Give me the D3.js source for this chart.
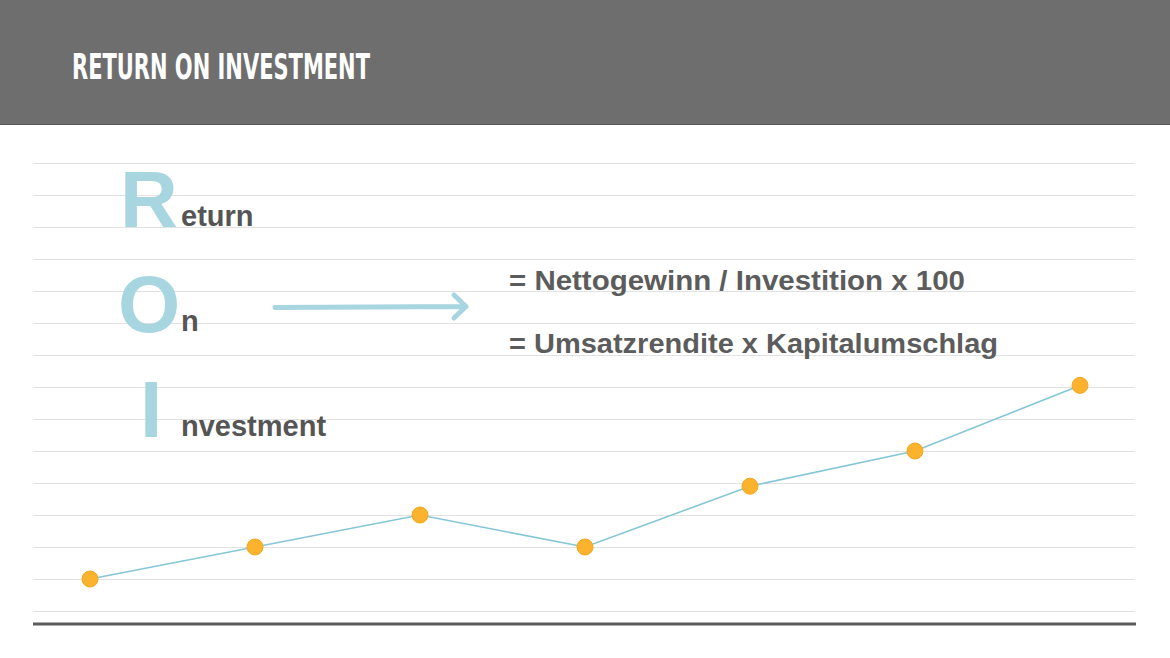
<!DOCTYPE html>
<html>
<head>
<meta charset="utf-8">
<script src="https://cdn.jsdelivr.net/npm/d3@7"></script>
<style>
    html, body { margin: 0; padding: 0; background: #fff; }
    #chart { width: 1170px; height: 658px; }
</style>
</head>
<body>
<div id="chart"></div>
<script>
// series
const periods = [1, 2, 3, 4, 5, 6, 7];
const roiValues = [1, 2, 3, 2, 3.9, 5, 7.05];
const gridValues = [0, 1, 2, 3, 4, 5, 6, 7, 8, 9, 10, 11, 12, 13, 14];

const titleText = "RETURN ON INVESTMENT";
const bigLetters = ["R", "O", "I"];
const restWords = ["eturn", "n", "nvestment"];
const formulas = ["= Nettogewinn / Investition x 100", "= Umsatzrendite x Kapitalumschlag"];

class RoiSlide {
    constructor(domName) {
        this.domName = domName;
        this.dom = document.querySelector(domName);
    }

    render() {
        const width = 1170,
            height = 658,
            headerHeight = 124,
            left = 33,
            right = 1135;

        const svg = d3.select(this.domName)
            .append("svg")
            .attr("width", width)
            .attr("height", height);

        // header band
        svg.append("rect")
            .attr("width", width)
            .attr("height", headerHeight)
            .attr("fill", "#6e6e6e");
        svg.append("line")
            .attr("x1", 0).attr("x2", width)
            .attr("y1", headerHeight + 0.5).attr("y2", headerHeight + 0.5)
            .attr("stroke", "#565656");
        svg.append("text")
            .attr("x", 72)
            .attr("y", 79)
            .attr("fill", "#fff")
            .attr("font-family", "'Liberation Sans Narrow', 'DejaVu Sans Condensed', 'Liberation Sans', sans-serif")
            .attr("font-weight", "bold")
            .attr("font-size", 36)
            .attr("textLength", 298)
            .attr("lengthAdjust", "spacingAndGlyphs")
            .text(titleText);

        let x = d3.scalePoint()
            .domain(periods)
            .range([90, 1080]);

        let y = d3.scaleLinear()
            .domain([0, 14])
            .range([611, 163]);

        // ruled lines
        svg.append("g")
            .selectAll("line")
            .data(gridValues)
            .enter()
            .append("line")
            .attr("x1", left).attr("x2", right)
            .attr("y1", d => Math.round(y(d)) + 0.5)
            .attr("y2", d => Math.round(y(d)) + 0.5)
            .attr("stroke", "#e2e2e2")
            .attr("stroke-width", 1);

        svg.append("line")
            .attr("x1", left).attr("x2", right + 1)
            .attr("y1", 624).attr("y2", 624)
            .attr("stroke", "#5a5a5a")
            .attr("stroke-width", 3);

        // R O I block
        const letterRows = [227, 332, 437];
        const letterX = [120, 118, 140];
        svg.append("g")
            .selectAll("text")
            .data(bigLetters)
            .enter()
            .append("text")
            .attr("x", (d, i) => letterX[i])
            .attr("y", (d, i) => letterRows[i])
            .attr("fill", "#a7d5e0")
            .attr("font-family", "'Liberation Sans', Arial, sans-serif")
            .attr("font-weight", "bold")
            .attr("font-size", 80)
            .text(d => d);

        svg.append("g")
            .selectAll("text")
            .data(restWords)
            .enter()
            .append("text")
            .attr("x", 181)
            .attr("y", (d, i) => letterRows[i] - 1)
            .attr("fill", "#555")
            .attr("font-family", "'Liberation Sans', Arial, sans-serif")
            .attr("font-weight", "bold")
            .attr("font-size", 29)
            .text(d => d);

        // arrow
        svg.append("path")
            .attr("d", "M275,307.5L466,306.5M454,295L466,306.5L454,318")
            .attr("fill", "none")
            .attr("stroke", "#a7d5e0")
            .attr("stroke-width", 5)
            .attr("stroke-linecap", "round")
            .attr("stroke-linejoin", "round");

        const formulaRows = [290, 353];
        const formulaWidths = [456, 489];
        svg.append("g")
            .selectAll("text")
            .data(formulas)
            .enter()
            .append("text")
            .attr("x", 509)
            .attr("y", (d, i) => formulaRows[i])
            .attr("fill", "#5c5c5c")
            .attr("font-family", "'Liberation Sans', Arial, sans-serif")
            .attr("font-weight", "bold")
            .attr("font-size", 28)
            .attr("textLength", (d, i) => formulaWidths[i])
            .attr("lengthAdjust", "spacingAndGlyphs")
            .text(d => d);

        // the line and its points
        let line = d3.line()
            .x((d, i) => x(periods[i]))
            .y(d => y(d));

        svg.append("path")
            .datum(roiValues)
            .attr("d", line)
            .attr("fill", "none")
            .attr("stroke", "#86c6d6")
            .attr("stroke-width", 1.6);

        svg.append("g")
            .selectAll("circle")
            .data(roiValues)
            .enter()
            .append("circle")
            .attr("cx", (d, i) => x(periods[i]))
            .attr("cy", d => y(d))
            .attr("r", 8)
            .attr("fill", "#fbb22d")
            .attr("stroke", "#f3a71f")
            .attr("stroke-width", 1);
    }
}

new RoiSlide("#chart").render();
</script>
</body>
</html>
